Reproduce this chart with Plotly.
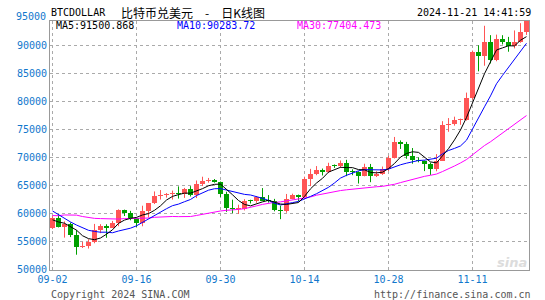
import pandas as pd
import plotly.graph_objects as go

# ---------------- data ----------------
dates = pd.date_range("2024-09-02", "2024-11-20", freq="D").strftime("%m-%d").tolist()

opens = [57300, 59130, 57480, 57970, 56160, 53950, 54160, 54870, 57040, 57650,
         57340, 58130, 60570, 60000, 59180, 58200, 60310, 61760, 62950, 63200,
         63350, 63580, 63330, 64300, 63140, 65180, 65790, 65890, 65600, 63330,
         60840, 60630, 60750, 62090, 62060, 62820, 62220, 62130, 60580, 60270,
         62450, 63190, 62850, 66060, 67040, 67610, 67400, 68420, 68360, 69000,
         67370, 67360, 66680, 68160, 66640, 67010, 67930, 69910, 72720, 72340,
         70220, 69480, 69360, 68740, 67810, 69360, 75640, 75900, 76550, 76690,
         80470, 88700, 87960, 90580, 87250, 91070, 90560, 89850, 90460, 92310]
closes = [59130, 57480, 57970, 56160, 53950, 54160, 54870, 57040, 57650, 57340,
          58130, 60570, 60000, 59180, 58200, 60310, 61760, 62950, 63200, 63350,
          63580, 63330, 64300, 63140, 65180, 65790, 65890, 65600, 63330, 60840,
          60630, 60750, 62090, 62060, 62820, 62220, 62130, 60580, 60270, 62450,
          63190, 62850, 66060, 67040, 67610, 67400, 68420, 68360, 69000, 67370,
          67360, 66680, 68160, 66640, 67010, 67930, 69910, 72720, 72340, 70220,
          69480, 69360, 68740, 67810, 69360, 75640, 75900, 76550, 76690, 80470,
          88700, 87960, 90580, 87250, 91070, 90560, 89850, 90460, 92310, 94290]
highs = [59450, 59810, 58500, 58300, 56950, 54850, 55300, 58050, 58000, 57990,
         58580, 60650, 60600, 60380, 59200, 61300, 61780, 63850, 64100, 63560,
         64000, 64750, 64480, 64800, 65800, 66480, 66260, 66070, 65620, 63800,
         62380, 61480, 62470, 62370, 62990, 64450, 63200, 62520, 61300, 63400,
         63450, 63290, 66480, 67880, 68380, 67940, 68970, 68670, 69380, 69500,
         67800, 67450, 68800, 68760, 67450, 68300, 70200, 73580, 72960, 72700,
         71600, 69930, 69370, 69000, 70520, 76400, 76950, 77200, 76850, 81500,
         89000, 89950, 93430, 91760, 91850, 91750, 91450, 92600, 93900, 94900]
lows = [57130, 57420, 55600, 55700, 52550, 53750, 53650, 54600, 56400, 55570,
        57320, 57640, 59460, 58700, 57500, 57630, 59200, 61600, 62400, 62750,
        62400, 62580, 62700, 62950, 62670, 64810, 65420, 65420, 62850, 60200,
        59980, 59830, 60460, 61700, 61820, 62150, 61850, 60300, 58900, 60050,
        62450, 62070, 62450, 64800, 66750, 66700, 67130, 68050, 68050, 66580,
        66750, 65260, 66550, 65500, 66430, 66800, 67500, 69730, 71440, 69690,
        68800, 69050, 67480, 66800, 67450, 69300, 74500, 75600, 75750, 76500,
        80250, 85300, 86300, 86700, 87100, 90100, 88800, 89400, 90400, 91800]

# moving-average values at the start of the window (read from the drawn lines,
# their windows reach before the first candle)
ma5_head = [58780, 58400, 58170, 57610]
ma10_head = [60360, 59690, 59070, 58400, 57850, 57360, 56910, 56710, 56570]
ma30_head = [59540, 59520, 59650, 59660, 59620, 59370, 59170, 59040, 59000, 58940,
             58860, 58920, 59000, 59010, 58970, 59030, 59100, 59230, 59300, 59400,
             59380, 59350, 59360, 59370, 59560, 59780, 60000, 60220, 60360]

ma_labels = ["MA5:91500.868", "MA10:90283.72", "MA30:77404.473"]
y_ticks = [50000, 55000, 60000, 65000, 70000, 75000, 80000, 85000, 90000]
x_tick_labels = ["09-02", "09-16", "09-30", "10-14", "10-28", "11-11"]
symbol_text = "BTCDOLLAR"
title_text = "比特币兑美元　-　日K线图"
time_text = "2024-11-21 14:41:59"
copyright_text = "Copyright 2024 SINA.COM"
url_text = "http://finance.sina.com.cn"


def moving_average(values, n, head):
    s = pd.Series(values, dtype=float).rolling(n).mean()
    s.iloc[:n - 1] = head
    return s.tolist()


ma5 = moving_average(closes, 5, ma5_head)
ma10 = moving_average(closes, 10, ma10_head)
ma30 = moving_average(closes, 30, ma30_head)

# ---------------- styling ----------------
W, H = 545, 300
ML, MR, MT, MB = 50, 16, 21, 30
PW, PH = W - ML - MR, H - MT - MB
RED, GREEN = "#ff5555", "#00a000"
AXIS_BLUE = "#1177cc"
MONO = "DejaVu Sans Mono"

n = len(closes)
xs = list(range(n))
half = PW / 6.0 / 2.0  # candle spacing 6px in data units -> range padding
x_lo, x_hi = -5 / 12, (n - 1) + 5 / 12
y_lo, y_hi = 49821, 94286
min_body = (y_hi - y_lo) / PH  # at least 1px tall body

up = [c >= o for o, c in zip(opens, closes)]
colors = [RED if u else GREEN for u in up]
base = [min(o, c) for o, c in zip(opens, closes)]
body = [max(abs(c - o), min_body) for o, c in zip(opens, closes)]

fig = go.Figure()

# wicks
for flag, col in ((True, RED), (False, GREEN)):
    wx, wy = [], []
    for i in xs:
        if up[i] == flag:
            wx += [i, i, None]
            wy += [lows[i], highs[i], None]
    fig.add_trace(go.Scatter(x=wx, y=wy, mode="lines",
                             line=dict(color=col, width=1), hoverinfo="skip"))

# bodies
fig.add_trace(go.Bar(x=xs, y=body, base=base, width=5 / 6,
                     marker=dict(color=colors, line=dict(width=0)), hoverinfo="skip"))

# moving averages
for vals, col in ((ma30, "#ff00ff"), (ma10, "#0000ff"), (ma5, "#000000")):
    fig.add_trace(go.Scatter(x=xs, y=vals, mode="lines",
                             line=dict(color=col, width=1), hoverinfo="skip"))

tickvals = [dates.index(d) for d in x_tick_labels]
tickvals = [max(v, x_lo + 1e-6) for v in tickvals]


def px_x(px):
    return (px - ML) / PW


def px_y(py):
    return (MT + PH - py) / PH


annotations = [
    dict(text=symbol_text, x=px_x(50), y=px_y(12.5), xanchor="left", yanchor="middle",
         font=dict(family=MONO, size=10, color="#000000")),
    dict(text=title_text, x=px_x(120), y=px_y(12.5), xanchor="left", yanchor="middle",
         font=dict(family="Noto Sans CJK SC", size=12, color="#000000")),
    dict(text=time_text, x=px_x(532), y=px_y(12.5), xanchor="right", yanchor="middle",
         font=dict(family=MONO, size=10, color="#000000")),
    dict(text="95000", x=px_x(46.5), y=px_y(16.5), xanchor="right", yanchor="middle",
         font=dict(family=MONO, size=10, color=AXIS_BLUE)),
    dict(text=copyright_text, x=px_x(50), y=px_y(294), xanchor="left", yanchor="middle",
         font=dict(family=MONO, size=10, color="#555555")),
    dict(text=url_text, x=px_x(532), y=px_y(294), xanchor="right", yanchor="middle",
         font=dict(family=MONO, size=10, color="#555555")),
    dict(text="<b><i>sina</i></b>", x=px_x(528), y=px_y(262), xanchor="right", yanchor="middle",
         font=dict(family="DejaVu Sans", size=13, color="#dcdcdc")),
]
for label, col, left in zip(ma_labels, ("#000000", "#0000ff", "#ff00ff"), (55, 175.5, 296)):
    annotations.append(dict(text=label, x=px_x(left), y=px_y(25.5), xanchor="left",
                            yanchor="middle", font=dict(family=MONO, size=10, color=col)))
for a in annotations:
    a.update(xref="paper", yref="paper", showarrow=False, xshift=0, yshift=0,
             borderpad=0)

fig.update_layout(
    width=W, height=H, margin=dict(l=ML, r=MR, t=MT, b=MB, pad=0),
    paper_bgcolor="#ffffff", plot_bgcolor="#ffffff",
    showlegend=False, hovermode=False, bargap=0,
    annotations=annotations,
    xaxis=dict(range=[x_lo, x_hi], tickmode="array", tickvals=tickvals,
               ticktext=x_tick_labels, showgrid=True, gridcolor="#aaaaaa",
               griddash="dot", gridwidth=1, zeroline=False, showline=True,
               linecolor="#999999", linewidth=1, mirror=True, ticks="",
               tickfont=dict(family=MONO, size=10, color=AXIS_BLUE), fixedrange=True),
    yaxis=dict(range=[y_lo, y_hi], tickmode="array", tickvals=y_ticks,
               ticktext=[str(v) for v in y_ticks], showgrid=True, gridcolor="#aaaaaa",
               griddash="dot", gridwidth=1, zeroline=False, showline=True,
               linecolor="#999999", linewidth=1, mirror=True, ticks="",
               tickfont=dict(family=MONO, size=10, color=AXIS_BLUE), fixedrange=True),
)

fig.write_html("out.html", config={"displayModeBar": False, "staticPlot": True})
